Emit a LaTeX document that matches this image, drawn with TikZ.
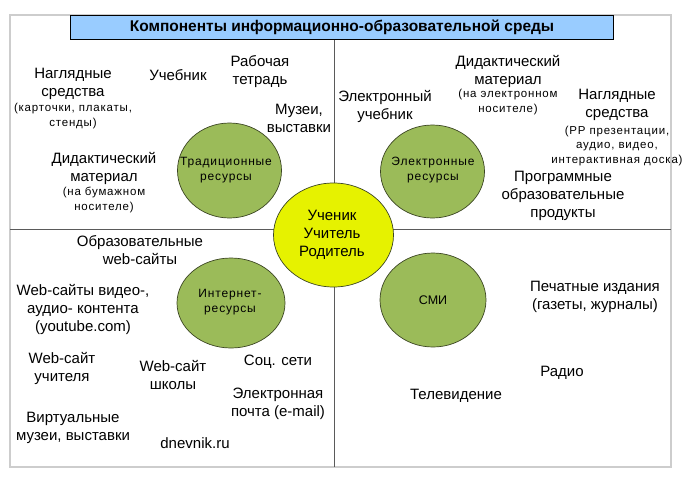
\documentclass[tikz,border=0pt]{standalone}
\usepackage{fontspec}
\setmainfont{Liberation Sans}
\newfontfamily\spacedsans[LetterSpace=7]{Liberation Sans}
\usepackage{tikz}
\usetikzlibrary{positioning}
\definecolor{titleblue}{RGB}{153,204,255}
\definecolor{resgreen}{RGB}{155,187,89}
\definecolor{centeryellow}{RGB}{230,242,0}
\definecolor{rimdark}{RGB}{60,70,35}
\definecolor{framegray}{RGB}{205,205,205}
\definecolor{divgray}{RGB}{90,90,90}
\newcommand{\bigtxt}{\fontsize{15}{18}\selectfont}
\newcommand{\smtxt}{\spacedsans\fontsize{11.5}{14.5}\selectfont}
\newcommand{\restxt}{\spacedsans\fontsize{12}{15}\selectfont}

\begin{document}
\begin{tikzpicture}[x=1pt,y=-1pt,
    lbl/.style={align=center,font=\bigtxt,inner sep=0pt},
    lbls/.style={align=center,font=\smtxt,inner sep=0pt},
    res/.style={fill=resgreen,draw=rimdark,line width=0.7pt},
    restext/.style={align=center,font=\restxt,inner sep=0pt}]
        \useasboundingbox (0,0) rectangle (685,480);
        % Frame and dividers
        \draw[framegray,line width=1.2pt] (10,15) rectangle (671,467);
        \draw[divgray,line width=0.8pt] (334,39) -- (334,467);
        \draw[divgray,line width=0.8pt] (10,229) -- (671,229);
        \node[draw=black,fill=titleblue,line width=0.8pt,minimum width=543pt,minimum height=24pt,
              inner sep=0pt,font=\bfseries\fontsize{15.5}{18}\selectfont] (title) at (342,27)
              {Компоненты информационно-образовательной среды};
        % Define centres of the resource ellipses
        \coordinate (trad) at (229.5,170.5);
        \coordinate (elres) at (432.5,171.5);
        \coordinate (inet) at (231,303);
        \coordinate (smi) at (433,300);
        \coordinate (pupil) at (333.5,235);
        % Draw the ellipses
        \filldraw[res] (trad) ellipse [x radius=52pt,y radius=47.5pt];
        \filldraw[res] (elres) ellipse [x radius=52pt,y radius=46.5pt];
        \filldraw[res] (inet) ellipse [x radius=54pt,y radius=45pt];
        \filldraw[res] (smi) ellipse [x radius=53pt,y radius=47pt];
        \filldraw[fill=centeryellow,draw=rimdark,line width=0.7pt] (pupil) ellipse [x radius=60pt,y radius=52pt];
        % Label the ellipses
        \node[restext] (tradtxt) at (226,170) {Традиционные\\ресурсы};
        \node[restext] (elrestxt) at (433,170) {Электронные\\ресурсы};
        \node[restext] (inettxt) at (230,302) {Интернет-\\ресурсы};
        \node[font=\fontsize{12.5}{15}\selectfont,inner sep=0pt] (smitxt) at (433,300) {СМИ};
        \node[lbl] (pupiltxt) at (332,235) {Ученик\\Учитель\\Родитель};
        % Traditional resources
        \node[lbl] (nagl) at (73,84) {Наглядные\\средства};
        \node[lbls] (naglsub) at (73,116) {(карточки, плакаты,\\стенды)};
        \node[lbl] (ucheb) at (178,75) {Учебник};
        \node[lbl] (rabtet) at (260,72) {Рабочая\\тетрадь};
        \node[lbl] (muzei) at (299,118) {Музеи,\\выставки};
        \node[lbl] (didakt) at (104,168) {Дидактический\\материал};
        \node[lbls] (didaktsub) at (104,200) {(на бумажном\\носителе)};
        % Electronic resources
        \node[lbl] (didakte) at (508,71) {Дидактический\\материал};
        \node[lbls] (didaktesub) at (508,102) {(на электронном\\носителе)};
        \node[lbl] (elucheb) at (385,106) {Электронный\\учебник};
        \node[lbl] (nagle) at (617,105) {Наглядные\\средства};
        \node[lbls] (naglesub) at (617,146) {(PP презентации,\\аудио, видео,\\интерактивная доска)};
        \node[lbl] (program) at (563,196) {Программные\\образовательные\\продукты};
        % Internet resources
        \node[lbl] (obrweb) at (140,250) {Образовательные\\web-сайты};
        \node[lbl] (webvideo) at (83,309) {Web-сайты видео-,\\аудио- контента\\(youtube.com)};
        \node[lbl] (webteach) at (62,368) {Web-сайт\\учителя};
        \node[lbl] (webschool) at (173,375) {Web-сайт\\школы};
        \node[lbl] (soc) at (278,362) {Соц. сети};
        \node[lbl] (email) at (278,404) {Электронная\\почта (e-mail)};
        \node[lbl] (virt) at (73,428) {Виртуальные\\музеи, выставки};
        \node[lbl] (dnevnik) at (195,443) {dnevnik.ru};
        % Mass media
        \node[lbl] (pechat) at (595,297) {Печатные издания\\(газеты, журналы)};
        \node[lbl] (radio) at (562,373) {Радио};
        \node[lbl] (tv) at (456,396) {Телевидение};
\end{tikzpicture}
\end{document}
